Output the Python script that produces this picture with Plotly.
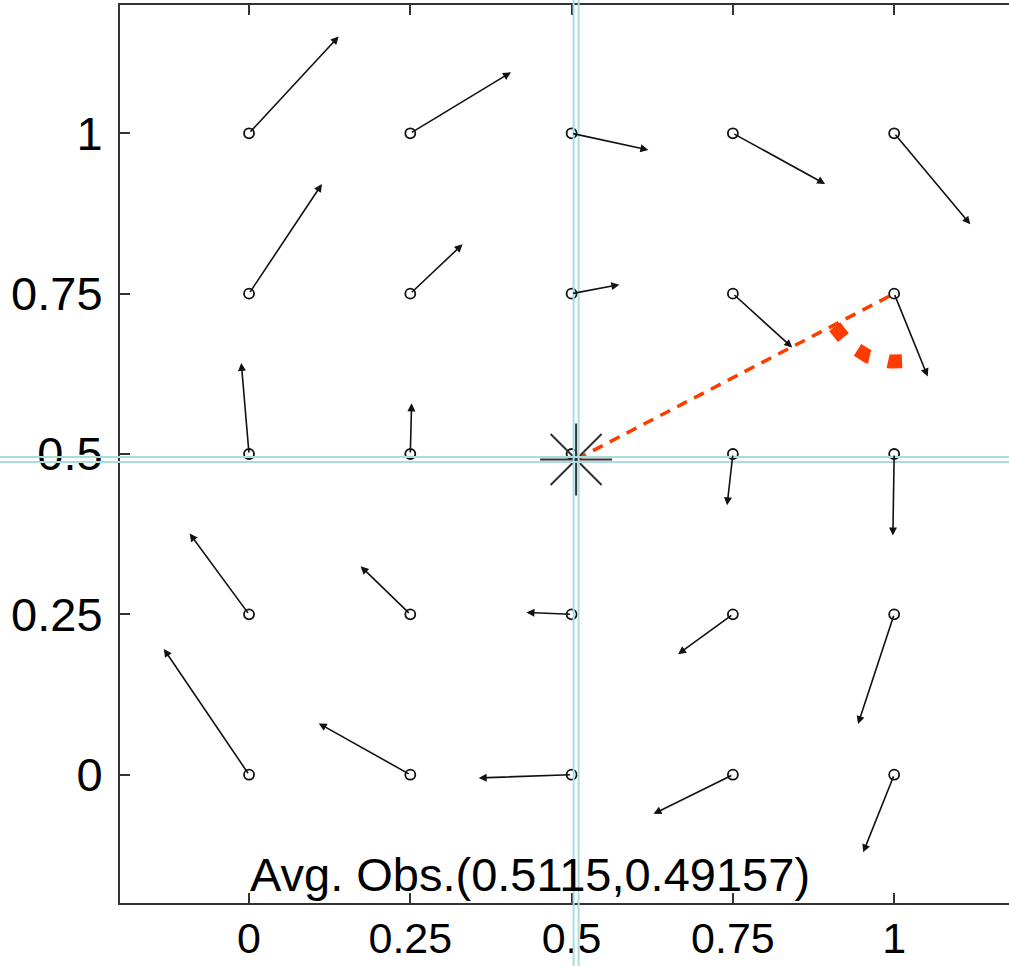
import numpy as np
import plotly.graph_objects as go

# grid origins
ox = [0, 0.25, 0.5, 0.75, 1,
      0, 0.25, 0.5, 0.75, 1,
      0, 0.25, 0.5, 0.75, 1,
      0, 0.25, 0.5, 0.75, 1,
      0, 0.25, 0.5, 0.75, 1]
oy = [1, 1, 1, 1, 1,
      0.75, 0.75, 0.75, 0.75, 0.75,
      0.5, 0.5, 0.5, 0.5, 0.5,
      0.25, 0.25, 0.25, 0.25, 0.25,
      0, 0, 0, 0, 0]
# vector components
vx = [0.139, 0.156, 0.119, 0.143, 0.118,
      0.113, 0.081, 0.074, 0.092, 0.052,
      -0.012, 0.002, 0.0, -0.009, -0.002,
      -0.092, -0.077, -0.070, -0.085, -0.056,
      -0.132, -0.142, -0.144, -0.123, -0.048]
vy = [0.151, 0.095, -0.026, -0.079, -0.142,
      0.171, 0.077, 0.014, -0.084, -0.129,
      0.142, 0.079, 0.0, -0.080, -0.127,
      0.126, 0.075, 0.003, -0.062, -0.171,
      0.196, 0.080, -0.005, -0.061, -0.121]

avg_obs = (0.5115, 0.49157)
avg_draw = (0.507, 0.4915)
target = (1.0, 0.75)
arc_radius_px = 68
arc_angles_deg = (151, 83)  # screen angles (y down)

tick_vals = [0, 0.25, 0.5, 0.75, 1]
tick_text = ["0", "0.25", "0.5", "0.75", "1"]

x_range = [-0.2, 1.178]
y_range = [-0.2, 1.2]
W, H = 1009, 966
ML, MR, MT, MB = 120, 0, 5, 63
px_x = (W - ML - MR) / (x_range[1] - x_range[0])
px_y = (H - MT - MB) / (y_range[1] - y_range[0])

fig = go.Figure()

# red dashed line from average to target
fig.add_trace(go.Scatter(x=[avg_draw[0], target[0]], y=[avg_draw[1], target[1]],
                         mode="lines", line=dict(color="#ff3c00", width=3.5, dash="11px,8px"),
                         hoverinfo="skip", showlegend=False))

# angle arc
th = np.deg2rad(np.linspace(arc_angles_deg[0], arc_angles_deg[1], 60))
arc_x = target[0] + arc_radius_px * np.cos(th) / px_x
arc_y = target[1] - arc_radius_px * np.sin(th) / px_y
fig.add_trace(go.Scatter(x=arc_x, y=arc_y, mode="lines",
                         line=dict(color="#ff3c00", width=14, dash="14px,19px"),
                         hoverinfo="skip", showlegend=False))

# origin circles
fig.add_trace(go.Scatter(x=ox, y=oy, mode="markers",
                         marker=dict(symbol="circle-open", size=10, color="#111",
                                     line=dict(width=1.8, color="#111")),
                         hoverinfo="skip", showlegend=False))

# star at average observation
fig.add_trace(go.Scatter(x=[avg_draw[0]], y=[avg_draw[1]], mode="markers",
                         marker=dict(symbol="asterisk-open", size=60, color="#333",
                                     line=dict(width=2, color="#333")),
                         hoverinfo="skip", showlegend=False))

annotations = []
for x0, y0, dx, dy in zip(ox, oy, vx, vy):
    if abs(dx) < 1e-6 and abs(dy) < 1e-6:
        continue
    annotations.append(dict(x=x0 + dx, y=y0 + dy, ax=x0, ay=y0, xref="x", yref="y",
                            axref="x", ayref="y", text="", showarrow=True,
                            arrowhead=2, arrowsize=1.0, arrowwidth=1.6, arrowcolor="#111"))

annotations.append(dict(x=0.435, y=-0.156, xref="x", yref="y", showarrow=False,
                        text="Avg. Obs.(%s,%s)" % (avg_obs[0], avg_obs[1]),
                        font=dict(family="Liberation Sans, Arial", size=47, color="#000"),
                        xanchor="center", yanchor="middle"))

cyan = "#a9dcdf"
off_x = 2.5 / px_x
off_y = 2.5 / px_y
shapes = []
for s in (-1, 1):
    shapes.append(dict(type="line", xref="x", yref="paper", x0=avg_draw[0] + s * off_x,
                       x1=avg_draw[0] + s * off_x, y0=-0.2, y1=1.2,
                       line=dict(color=cyan, width=2), layer="above"))
    shapes.append(dict(type="line", xref="paper", yref="y", x0=-0.3, x1=1.2,
                       y0=avg_draw[1] + s * off_y, y1=avg_draw[1] + s * off_y,
                       line=dict(color=cyan, width=2), layer="above"))

axis_common = dict(showgrid=False, zeroline=False, showline=True, linecolor="#333",
                   linewidth=2, ticks="inside", ticklen=10, tickwidth=1.5, tickcolor="#333",
                   tickvals=tick_vals, ticktext=tick_text, automargin=False)

fig.update_layout(
    width=W, height=H,
    margin=dict(l=ML, r=MR, t=MT, b=MB),
    paper_bgcolor="white", plot_bgcolor="white",
    xaxis=dict(range=x_range, mirror="ticks", ticklabelstandoff=-4,
               tickfont=dict(family="Liberation Sans, Arial", size=43, color="#000"),
               **axis_common),
    yaxis=dict(range=y_range, mirror=False, ticklabelstandoff=6,
               tickfont=dict(family="Liberation Sans, Arial", size=47, color="#000"),
               **axis_common),
    annotations=annotations, shapes=shapes,
)

fig.write_html("out.html")
